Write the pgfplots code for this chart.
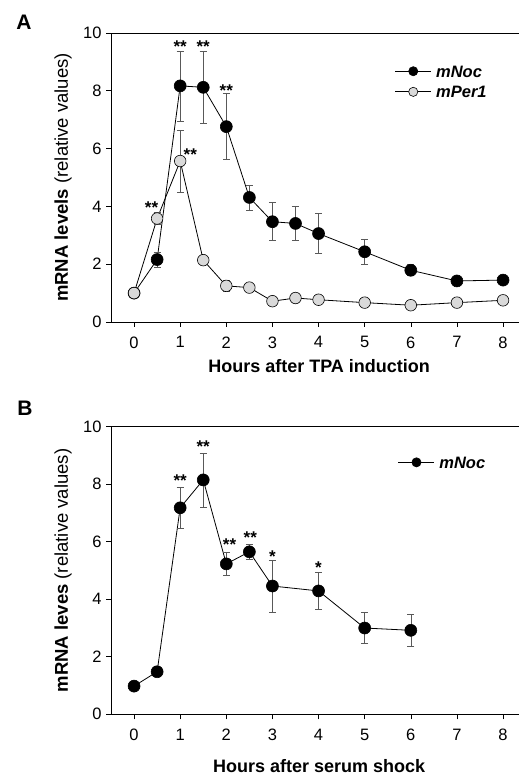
\documentclass[border=0pt]{standalone}
\usepackage{pgfplots}
\pgfplotsset{compat=1.18}
\usepackage{fontspec}
\setmainfont{Liberation Sans}

\pgfplotsset{
  panel/.style={
    scale only axis,
    width=410.5pt,
    xmin=-0.5, xmax=8.4,
    ymin=0, ymax=10,
    xtick={0,...,8},
    ytick={0,2,...,10},
    tick pos=left,
    tick align=outside,
    major tick length=5pt,
    tick style={black, line width=0.6pt},
    axis line style={black, line width=0.6pt},
    /pgf/number format/assume math mode=true,
    tick label style={font=\fontsize{16.5}{18}\selectfont},
    xticklabel style={yshift=-6pt},
    yticklabel style={xshift=-1pt},
    every axis y label/.style={at={(axis description cs:-0.117,0.5)}, rotate=90, anchor=center,
      font=\fontsize{18.5}{20}\selectfont},
    ylabel={\textbf{mRNA levels} (relative values)},
    legend cell align=left,
    legend image code/.code={
      \draw[mark repeat=2, mark phase=2, mark size=4.6pt] plot coordinates {(0pt,0pt) (18pt,0pt) (36pt,0pt)};
    },
    legend style={draw=none, fill=none, inner sep=0pt, row sep=1.6pt,
      font=\fontsize{16.5}{18}\selectfont\bfseries\itshape,
      nodes={inner ysep=3.5pt, inner xsep=4.5pt, text height=12pt, text depth=0pt}},
    clip=false,
  },
  noc/.style={black, line width=0.8pt, mark=*, mark size=6pt,
    mark options={draw=black, fill=black, line width=0.6pt},
    error bars/.cd, y dir=both, y explicit,
    error bar style={black!65, line width=0.6pt},
    error mark options={rotate=90, mark size=3.5pt, black!65, line width=0.6pt}},
  per/.style={black, line width=0.8pt, mark=*, mark size=5.8pt,
    mark options={draw=black, fill=black!15, line width=0.6pt},
    error bars/.cd, y dir=both, y explicit,
    error bar style={black!65, line width=0.6pt},
    error mark options={rotate=90, mark size=3.5pt, black!65, line width=0.6pt}},
}
\tikzset{star/.style={font=\fontsize{17}{18}\selectfont\bfseries, anchor=center, yshift=-3.5pt}}

\begin{document}
\begin{tikzpicture}[x=1pt, y=1pt]
\useasboundingbox (0,0) rectangle (519,776);

\node[font=\fontsize{21}{24}\selectfont\bfseries] at (24,753.5) {A};
\node[font=\fontsize{21}{24}\selectfont\bfseries] at (25,367.5) {B};

%% Panel A: TPA induction
\begin{axis}[panel, at={(111pt,454pt)}, anchor=south west, height=289pt,
  xlabel={\textbf{Hours after TPA induction}},
  every axis x label/.style={at={(axis description cs:0.507,0)}, yshift=-43.7pt, anchor=center,
    font=\fontsize{18}{20}\selectfont},
  legend style={at={(axis cs:5.65,8.32)}, anchor=west},
]
\addplot[noc] coordinates {
  (0,1.0) +- (0,0.06)
  (0.5,2.16) +- (0,0.26)
  (1,8.17) +- (0,1.21)
  (1.5,8.12) +- (0,1.25)
  (2,6.76) +- (0,1.14)
  (2.5,4.31) +- (0,0.43)
  (3,3.47) +- (0,0.66)
  (3.5,3.41) +- (0,0.59)
  (4,3.06) +- (0,0.69)
  (5,2.43) +- (0,0.44)
  (6,1.79) +- (0,0.19)
  (7,1.42) +- (0,0.14)
  (8,1.45) +- (0,0.07)
};
\addlegendentry{mNoc}
\addplot[per] coordinates {
  (0,1.0) +- (0,0.05)
  (0.5,3.58) +- (0,0.2)
  (1,5.57) +- (0,1.07)
  (1.5,2.14) +- (0,0.08)
  (2,1.25) +- (0,0.19)
  (2.5,1.19) +- (0,0.05)
  (3,0.72) +- (0,0.15)
  (3.5,0.83) +- (0,0.05)
  (4,0.77) +- (0,0.04)
  (5,0.67) +- (0,0.04)
  (6,0.58) +- (0,0.04)
  (7,0.67) +- (0,0.04)
  (8,0.75) +- (0,0.04)
};
\addlegendentry{mPer1}
\node[star] at (axis cs:1,9.65) {**};
\node[star] at (axis cs:1.5,9.65) {**};
\node[star] at (axis cs:2,8.13) {**};
\node[star] at (axis cs:0.38,4.08) {**};
\node[star] at (axis cs:1.22,5.9) {**};
\end{axis}

%% Panel B: serum shock
\begin{axis}[panel, at={(111pt,61.7pt)}, anchor=south west, height=287.6pt,
  ylabel={\textbf{mRNA leves} (relative values)},
  xlabel={\textbf{Hours after serum shock}},
  every axis x label/.style={at={(axis description cs:0.507,0)}, yshift=-52pt, anchor=center,
    font=\fontsize{18}{20}\selectfont},
  legend style={at={(axis cs:5.72,8.76)}, anchor=west},
]
\addplot[noc] coordinates {
  (0,0.98) +- (0,0.06)
  (0.5,1.48) +- (0,0.05)
  (1,7.18) +- (0,0.73)
  (1.5,8.15) +- (0,0.94)
  (2,5.23) +- (0,0.4)
  (2.5,5.65) +- (0,0.27)
  (3,4.46) +- (0,0.9)
  (4,4.29) +- (0,0.65)
  (5,3.0) +- (0,0.53)
  (6,2.92) +- (0,0.54)
};
\addlegendentry{mNoc}
\node[star] at (axis cs:1,8.24) {**};
\node[star] at (axis cs:1.5,9.42) {**};
\node[star] at (axis cs:2.07,6.03) {**};
\node[star] at (axis cs:2.52,6.26) {**};
\node[star] at (axis cs:3,5.62) {*};
\node[star] at (axis cs:4,5.23) {*};
\end{axis}
\end{tikzpicture}
\end{document}
